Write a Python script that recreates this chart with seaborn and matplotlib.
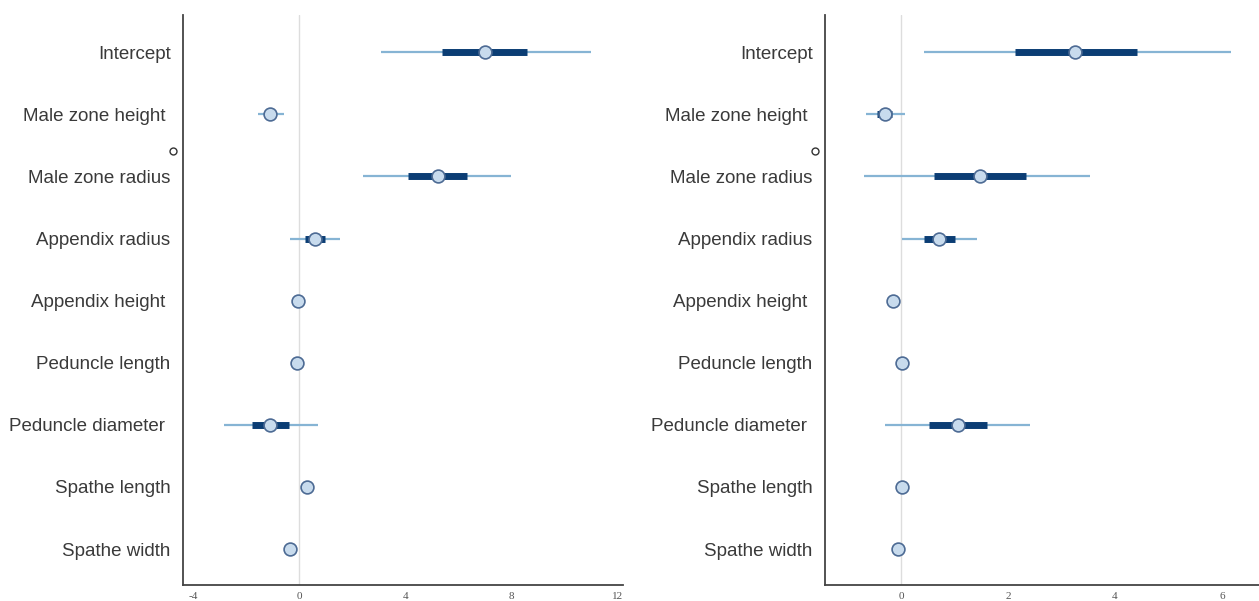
import matplotlib as mpl
from matplotlib import pyplot as plt
import seaborn as sns
import numpy as np
import pandas as pd

params = ["Intercept", "Male zone height ", "Male zone radius", "Appendix radius",
          "Appendix height ", "Peduncle length", "Peduncle diameter ", "Spathe length",
          "Spathe width"]

# left model: mean, thick interval (lo, hi), thin interval (lo, hi)
left_mean = [7.0, -1.09, 5.25, 0.60, -0.04, -0.08, -1.09, 0.30, -0.34]
left_thick_lo = [5.4, -1.25, 4.1, 0.23, -0.10, -0.12, -1.77, 0.25, -0.40]
left_thick_hi = [8.6, -0.93, 6.35, 0.98, 0.02, -0.04, -0.38, 0.35, -0.28]
left_thin_lo = [3.09, -1.55, 2.42, -0.34, -0.15, -0.18, -2.83, 0.20, -0.45]
left_thin_hi = [11.0, -0.57, 8.0, 1.55, 0.07, 0.02, 0.72, 0.40, -0.23]

# right model
right_mean = [3.25, -0.30, 1.48, 0.71, -0.15, 0.02, 1.07, 0.02, -0.06]
right_thick_lo = [2.13, -0.45, 0.62, 0.43, -0.19, -0.01, 0.52, -0.03, -0.10]
right_thick_hi = [4.41, -0.17, 2.34, 1.01, -0.11, 0.05, 1.61, 0.07, -0.02]
right_thin_lo = [0.43, -0.65, -0.69, 0.02, -0.24, -0.05, -0.30, -0.08, -0.15]
right_thin_hi = [6.17, 0.07, 3.53, 1.42, -0.06, 0.09, 2.41, 0.12, 0.05]

left_df = pd.DataFrame({"param": params, "mean": left_mean,
                        "lo50": left_thick_lo, "hi50": left_thick_hi,
                        "lo95": left_thin_lo, "hi95": left_thin_hi})
right_df = pd.DataFrame({"param": params, "mean": right_mean,
                         "lo50": right_thick_lo, "hi50": right_thick_hi,
                         "lo95": right_thin_lo, "hi95": right_thin_hi})

sns.set_style("white")
plt.rcParams["font.family"] = ["Liberation Sans", "DejaVu Sans"]

fig = plt.figure(figsize=(12.59, 6.01), dpi=100)
ax1 = fig.add_axes([0.1454, 0.0266, 0.3496, 0.9484])
ax2 = fig.add_axes([0.6553, 0.0266, 0.3447, 0.9484])


def forest(ax, df, xlim, xticks):
    y = np.arange(len(df))
    ax.axvline(0, color="#dddddd", lw=1, zorder=0)
    ax.hlines(y, df["lo95"], df["hi95"], color="#86b4d4", lw=1.6, zorder=1)
    ax.hlines(y, df["lo50"], df["hi50"], color="#0b3d74", lw=5, zorder=2)
    sns.scatterplot(data=df, x="mean", y=y, ax=ax, s=85, color="#c8dbed",
                    edgecolor="#4d6b94", linewidth=1.2, zorder=3, legend=False)
    ax.set_yticks(y)
    ax.set_yticklabels(df["param"], fontsize=13.5, color="#3a3a3a")
    ax.set_ylim(len(df) - 0.42, -0.6)
    ax.set_xlim(*xlim)
    ax.set_xticks(xticks)
    ax.set_xticklabels([str(t) for t in xticks], fontsize=8, color="#555555",
                       family="Liberation Serif")
    ax.set_xlabel("")
    ax.set_ylabel("")
    sns.despine(ax=ax)
    for s in ["left", "bottom"]:
        ax.spines[s].set_color("#444444")
        ax.spines[s].set_linewidth(1.3)
    ax.tick_params(axis="y", length=3, width=1.5, color="#444444", pad=6)
    ax.tick_params(axis="x", length=3, width=0.8, color="#444444", pad=2)
    # stray small open circle next to the axis
    ax.plot([-0.022], [0.762], "o", ms=5, mfc="white", mec="#333333", mew=1,
            transform=ax.transAxes, clip_on=False)


forest(ax1, left_df, (-4.38, 12.23), [-4, 0, 4, 8, 12])
forest(ax2, right_df, (-1.42, 6.69), [0, 2, 4, 6])

plt.savefig("out.png", dpi=100)
